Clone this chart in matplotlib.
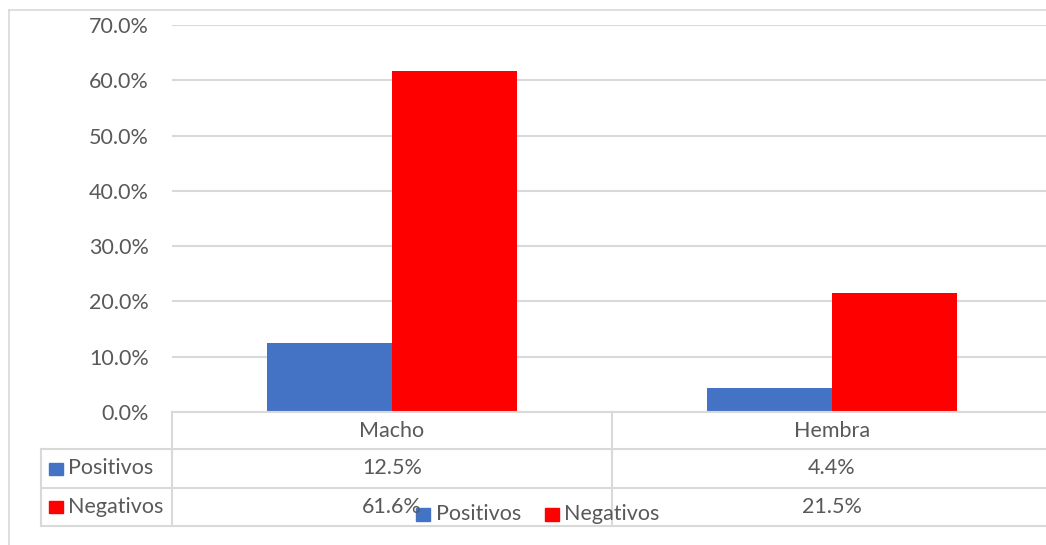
import matplotlib
matplotlib.use("Agg")
import matplotlib.pyplot as plt
from matplotlib.lines import Line2D
from matplotlib.patches import Rectangle

categories = ["Macho", "Hembra"]
series_names = ["Positivos", "Negativos"]
positivos = [12.5, 4.4]
negativos = [61.6, 21.5]
yticks = [0, 10, 20, 30, 40, 50, 60, 70]
colors = ["#4472C4", "#FF0000"]

W, H = 1046, 545
fig = plt.figure(figsize=(W / 100, H / 100), dpi=100)
plt.rcParams['font.family'] = ['Lato', 'DejaVu Sans']
TXT = "#595959"
GRID = "#D9D9D9"
FS = 15.5

def fx(px):
    return px / W

def fy(py):
    return 1 - py / H

# outer chart border
fig.add_artist(Line2D([fx(9), fx(9)], [fy(10), fy(560)], color=GRID, lw=1.2))
fig.add_artist(Line2D([fx(9), fx(1060)], [fy(10), fy(10)], color=GRID, lw=1.2))

# plot area
left, right, top, bottom = 172, 1052, 25, 412
ax = fig.add_axes([fx(left), fy(bottom), fx(right - left), (bottom - top) / H])
x = range(len(categories))
bw = 0.285
ax.bar([i - bw / 2 for i in x], positivos, width=bw, color=colors[0], zorder=3)
ax.bar([i + bw / 2 for i in x], negativos, width=bw, color=colors[1], zorder=3)
ax.set_xlim(-0.5, len(categories) - 0.5)
ax.set_ylim(0, 70)
ax.set_yticks(yticks)
ax.set_yticklabels([f"{v:.1f}%" for v in yticks], color=TXT, fontsize=FS)
ax.tick_params(axis='y', length=0, pad=16.5)
ax.set_xticks([])
for s in ax.spines.values():
    s.set_visible(False)
ax.grid(axis='y', color=GRID, lw=1.5, zorder=0)

# data table
tl, tr = 41, 1052
rows_y = [412, 449, 488, 526]
for i, yy in enumerate(rows_y):
    x0 = left if i == 0 else tl
    fig.add_artist(Line2D([fx(x0), fx(tr)], [fy(yy), fy(yy)], color=GRID, lw=1.5))
fig.add_artist(Line2D([fx(tl), fx(tl)], [fy(449), fy(526)], color=GRID, lw=1.5))
fig.add_artist(Line2D([fx(left), fx(left)], [fy(412), fy(526)], color=GRID, lw=1.5))
cat_w = (right - left) / len(categories)
for j in range(1, len(categories)):
    xx = left + j * cat_w
    fig.add_artist(Line2D([fx(xx), fx(xx)], [fy(412), fy(526)], color=GRID, lw=1.5))

for j, c in enumerate(categories):
    cx = left + (j + 0.5) * cat_w
    fig.text(fx(cx), fy(431), c, ha='center', va='center', color=TXT, fontsize=FS)
    for r, vals in enumerate([positivos, negativos]):
        cy = (rows_y[r + 1] + rows_y[r + 2]) / 2
        fig.text(fx(cx), fy(cy), f"{vals[j]:.1f}%", ha='center', va='center', color=TXT, fontsize=FS)

for r, name in enumerate(series_names):
    cy = (rows_y[r + 1] + rows_y[r + 2]) / 2
    fig.add_artist(Rectangle((fx(49), fy(cy + 6)), fx(14), 12 / H, color=colors[r]))
    fig.text(fx(68), fy(cy), name, ha='left', va='center', color=TXT, fontsize=FS)

# legend
leg_items = [(416, 436), (545, 564)]
for (sx, tx), name, col in zip(leg_items, series_names, colors):
    fig.add_artist(Rectangle((fx(sx), fy(521)), fx(14), 13 / H, color=col))
    fig.text(fx(tx), fy(514), name, ha='left', va='center', color=TXT, fontsize=FS)

fig.savefig("out.png", dpi=100)
